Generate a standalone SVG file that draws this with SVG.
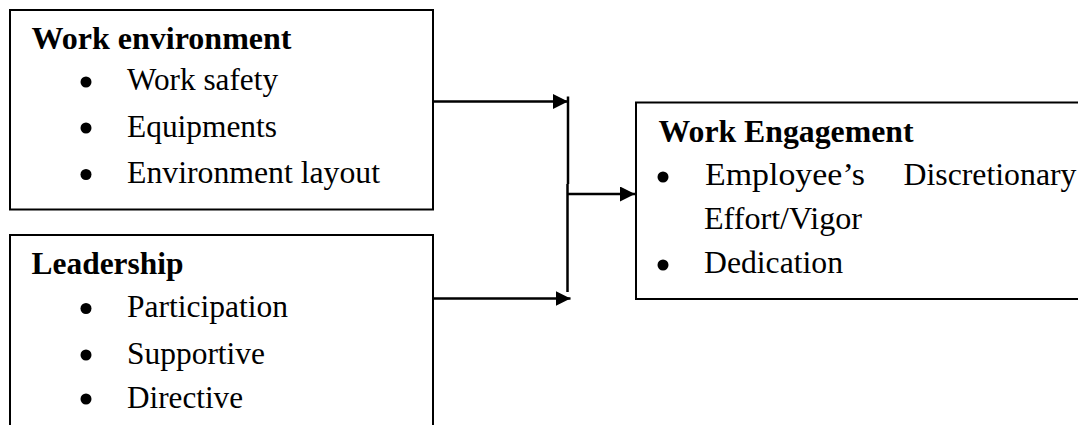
<svg xmlns="http://www.w3.org/2000/svg" width="1078" height="425" viewBox="0 0 1078 425">
  <style>
    .box { fill: #ffffff; stroke: #000000; stroke-width: 2; }
    .h { font-family: "Liberation Serif", "Times New Roman", serif; font-weight: bold; font-size: 32px; fill: #000; }
    .t { font-family: "Liberation Serif", "Times New Roman", serif; font-size: 32px; fill: #000; }
    .b { fill: #000; }
    .line { stroke: #000; stroke-width: 2.5; fill: none; }
  </style>
  <defs>
    <marker id="arr" markerWidth="15" markerHeight="15" refX="15" refY="7.5" orient="auto" markerUnits="userSpaceOnUse">
      <path d="M0,0 L15,7.5 L0,15 Z" fill="#000"/>
    </marker>
  </defs>
  <rect width="1078" height="425" fill="#ffffff"/>

  <g id="work-environment">
    <rect class="box" x="10" y="10" width="423" height="199.5"/>
    <text class="h" x="31.5" y="48.5" textLength="260" lengthAdjust="spacingAndGlyphs">Work environment</text>
    <circle class="b" cx="86" cy="82" r="5.5"/>
    <text class="t" x="127" y="90" textLength="151" lengthAdjust="spacingAndGlyphs">Work safety</text>
    <circle class="b" cx="86" cy="128" r="5.5"/>
    <text class="t" x="127" y="136.5" textLength="150" lengthAdjust="spacingAndGlyphs">Equipments</text>
    <circle class="b" cx="86" cy="174.5" r="5.5"/>
    <text class="t" x="127" y="182.5" textLength="253" lengthAdjust="spacingAndGlyphs">Environment layout</text>
  </g>

  <g id="leadership">
    <path class="box" d="M10,426 L10,235 L433,235 L433,426"/>
    <text class="h" x="31.5" y="274" textLength="152" lengthAdjust="spacingAndGlyphs">Leadership</text>
    <circle class="b" cx="86" cy="308.5" r="5.5"/>
    <text class="t" x="127" y="316.5" textLength="161" lengthAdjust="spacingAndGlyphs">Participation</text>
    <circle class="b" cx="86" cy="355" r="5.5"/>
    <text class="t" x="127" y="363.5" textLength="138" lengthAdjust="spacingAndGlyphs">Supportive</text>
    <circle class="b" cx="86" cy="399" r="5.5"/>
    <text class="t" x="127" y="407.5" textLength="116" lengthAdjust="spacingAndGlyphs">Directive</text>
  </g>

  <g id="work-engagement">
    <path class="box" d="M1080,102.5 L636,102.5 L636,299 L1080,299"/>
    <text class="h" x="658.5" y="141.5" textLength="255" lengthAdjust="spacingAndGlyphs">Work Engagement</text>
    <circle class="b" cx="663" cy="177" r="5.5"/>
    <text class="t" x="705" y="185" textLength="160" lengthAdjust="spacingAndGlyphs">Employee’s</text>
    <text class="t" x="903.5" y="185" textLength="173" lengthAdjust="spacingAndGlyphs">Discretionary</text>
    <text class="t" x="704" y="228.5" textLength="158" lengthAdjust="spacingAndGlyphs">Effort/Vigor</text>
    <circle class="b" cx="663" cy="265" r="5.5"/>
    <text class="t" x="704" y="272.5" textLength="139" lengthAdjust="spacingAndGlyphs">Dedication</text>
  </g>

  <g id="connectors">
    <line class="line" x1="433" y1="101.5" x2="568" y2="101.5" marker-end="url(#arr)"/>
    <line class="line" x1="433" y1="298.5" x2="570.5" y2="298.5" marker-end="url(#arr)"/>
    <line class="line" x1="568" y1="96.5" x2="568" y2="184"/>
    <line class="line" x1="567.5" y1="184" x2="567.5" y2="292"/>
    <line class="line" x1="567.5" y1="194" x2="635" y2="194" marker-end="url(#arr)"/>
  </g>
</svg>
